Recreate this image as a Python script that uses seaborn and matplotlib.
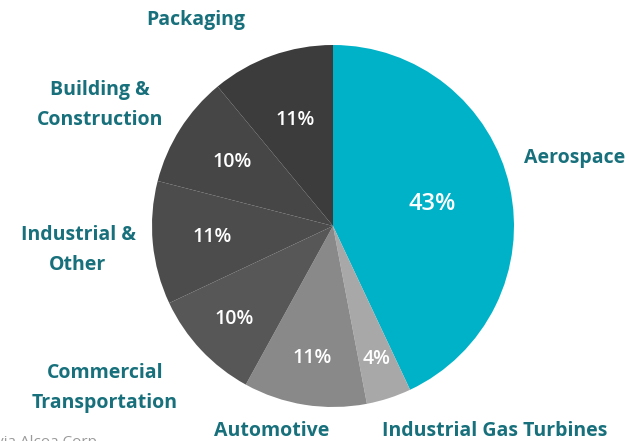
import numpy as np
import matplotlib
matplotlib.use('Agg')
import matplotlib.pyplot as plt
import seaborn as sns

# market share by end market
segments = ['Aerospace', 'Industrial Gas Turbines', 'Automotive', 'Commercial\nTransportation',
            'Industrial &\nOther', 'Building &\nConstruction', 'Packaging']
shares = [43, 4, 11, 10, 11, 10, 11]
colors = ['#00B2C8', '#A8A8A8', '#898989', '#575757', '#4C4C4C', '#464646', '#3C3C3C']
pct_dist = [0.56, 0.77, 0.74, 0.75, 0.67, 0.66, 0.62]
# label anchor points (pixels from top-left)
label_xy = [(575, 158), (495, 431), (272, 431), (105, 388), (78, 250), (100, 105), (196, 20)]

sns.set_theme(style='white')
plt.rcParams['font.family'] = ['Open Sans', 'DejaVu Sans']

W, H = 629, 441
fig = plt.figure(figsize=(W / 100, H / 100), dpi=100)
ax = fig.add_axes([0, 0, 1, 1])
cx, cy, r = 333, H - 226, 181

wedges, _ = ax.pie(shares, colors=colors, startangle=90, counterclock=False,
                   center=(cx, cy), radius=r, wedgeprops=dict(linewidth=0))

for w, s, d in zip(wedges, shares, pct_dist):
    ang = np.deg2rad((w.theta1 + w.theta2) / 2)
    x = cx + d * r * np.cos(ang)
    y = cy + d * r * np.sin(ang)
    ax.text(x, y, f'{s}%', color='white', ha='center', va='center',
            fontsize=17 if s > 40 else 14, fontweight='semibold')

for name, (x, y) in zip(segments, label_xy):
    ax.text(x, H - y, name, color='#17707B', ha='center', va='center',
            fontsize=14, fontweight='bold', linespacing=1.62)

ax.text(-4, H - 443, 'via Alcoa Corp.', color='#9A9A9A', ha='left', va='center', fontsize=11)

ax.set_xlim(0, W)
ax.set_ylim(0, H)
ax.set_aspect('equal')
ax.axis('off')
fig.savefig('out.png', dpi=100)
